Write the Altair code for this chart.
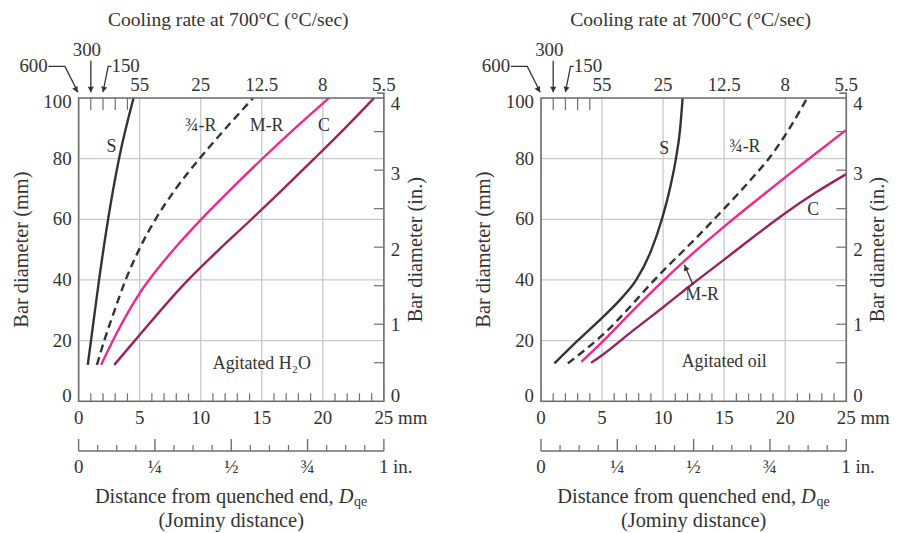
import altair as alt
import pandas as pd

FONT = "Liberation Serif"
INK = "#333333"
FRAME = "#6e6e6e"
GRID = "#c9c9c9"
PINK = "#f0288c"
PLUM = "#9c2060"
W, H = 307, 305
TITLE = 20.5
TICK = 19

# ---------------- data ----------------
series_names = ["S", "¾-R", "M-R", "C"]
series_colors = [INK, INK, PINK, PLUM]

# Agitated water: Jominy distance (mm) vs bar diameter (mm)
h2o_S_x = [0.75, 1.0, 1.65, 2.4, 3.3, 4.5]
h2o_S_y = [12, 19.5, 39.3, 59.6, 79.8, 100]
h2o_34R_x = [1.5, 2.1, 2.95, 3.85, 4.95, 6.3, 7.95, 9.9, 12.05, 14.3]
h2o_34R_y = [12, 20, 30, 40, 50, 60, 70, 80, 90, 100]
h2o_MR_x = [1.84, 3.0, 4.0, 5.1, 6.5, 8.0, 10.0, 12.5, 15.0, 17.8, 20.5]
h2o_MR_y = [12, 21.5, 29.0, 36.2, 43.8, 51.0, 59.8, 70.0, 79.8, 90.3, 100]
h2o_C_x = [2.92, 4.5, 8.8, 11.4, 14.05, 16.7, 19.3, 21.8, 24.2]
h2o_C_y = [12, 19.5, 39.3, 49.6, 59.6, 69.8, 80, 90, 100]

# Agitated oil
oil_S_x = [1.1, 3.0, 5.0, 6.6, 7.8, 9.05, 9.9, 10.55, 11.05, 11.4, 11.6]
oil_S_y = [12.5, 20, 27.5, 34, 40, 50, 60, 70, 80, 90, 100]
oil_34R_x = [2.2, 5.0, 10.0, 12.5, 15.0, 17.5, 18.5, 20.2, 21.8]
oil_34R_y = [12.5, 21.7, 43, 53, 63.5, 74.5, 79.2, 89, 100]
oil_MR_x = [3.3, 5.0, 7.5, 10.0, 12.5, 15.0, 17.5, 20.0, 22.5, 25.0]
oil_MR_y = [13, 19.5, 29.8, 39.7, 49.0, 57.6, 65.8, 73.8, 81.7, 89.5]
oil_C_x = [4.1, 5.0, 7.5, 10.0, 12.5, 15.0, 17.5, 20.0, 22.5, 25.0]
oil_C_y = [12.7, 15.2, 23.2, 31, 39, 46.7, 54.5, 62, 68.8, 74.9]

# axes / scales
mm_grid = [5, 10, 15, 20]
mm_labels = [0, 5, 10, 15, 20]
mm_minor = [1, 2, 3, 4, 6, 7, 8, 9, 11, 12, 13, 14, 16, 17, 18, 19, 21, 22, 23, 24]
diam_grid = [20, 40, 60, 80]
diam_labels = [0, 20, 40, 60, 80, 100]
diam_label_at = [1.6, 20, 40, 60, 80, 98.7]      # end labels nudged inward as printed
diam_in_ticks = [0.5, 1, 1.5, 2, 2.5, 3, 3.5]
diam_in_labels = [0, 1, 2, 3, 4]
diam_in_label_at = [1.6, 25, 50, 75, 98.1]        # where the inch labels are printed (mm)
cool_pos = [5, 10, 15, 20, 25]
cool_text = ["55", "25", "12.5", "8", "5.5"]
cool_ticks = [1, 2, 3, 4]
jom_in_16ths = list(range(17))
jom_in_lab_pos = [0, 0.25, 0.5, 0.75]
jom_in_lab_text = ["0", "¼", "½", "¾"]

# annotation positions (mm, mm)
h2o_notes = {"t": ["S", "¾-R", "M-R", "C", "Agitated H₂O"],
             "x": [2.7, 10.0, 15.4, 20.1, 15.0],
             "y": [83.8, 90.9, 90.9, 90.9, 12.2]}
oil_notes = {"t": ["S", "¾-R", "C", "M-R", "Agitated oil"],
             "x": [10.1, 16.7, 22.3, 13.2, 15.0],
             "y": [83.2, 83.7, 63.0, 35.0, 13.0]}

XS = alt.Scale(domain=[0, 25], nice=False, zero=False)
YS = alt.Scale(domain=[0, 100], nice=False, zero=False)
one = pd.DataFrame({"k": [0]})


def curves_df(sx, sy, rx, ry, mx, my, cx, cy):
    rows = []
    for name, xs, ys in zip(series_names, [sx, rx, mx, cx], [sy, ry, my, cy]):
        for a, b in zip(xs, ys):
            rows.append({"series": name, "x": a, "y": b})
    return pd.DataFrame(rows)


def T(text, x, y, size=TITLE, align="center", angle=0, style="normal"):
    kw = dict(text=text, font=FONT, fontSize=size, color=INK, align=align,
              baseline="middle", fontStyle=style)
    if angle:
        kw["angle"] = angle
    return alt.Chart(one).mark_text(**kw).encode(x=alt.value(x), y=alt.value(y))


def X(f="x"):
    return alt.X(f"{f}:Q", scale=XS, axis=None)


def Y(f="y"):
    return alt.Y(f"{f}:Q", scale=YS, axis=None)


def arrow(pts, tip, angle):
    df = pd.DataFrame({"x": [p[0] for p in pts], "y": [p[1] for p in pts], "o": list(range(len(pts)))})
    line = alt.Chart(df).mark_line(color=INK, strokeWidth=1.3).encode(x=X(), y=Y(), order="o:Q")
    head = alt.Chart(pd.DataFrame({"x": [tip[0]], "y": [tip[1]]})).mark_point(
        shape="triangle-up", filled=True, size=38, color=INK, opacity=1, angle=angle
    ).encode(x=X(), y=Y())
    return [line, head]


def panel(cdf, notes, extra_layers):
    L = []
    L.append(alt.Chart(pd.DataFrame({"x": mm_grid})).mark_rule(color=GRID, strokeWidth=1.3)
             .encode(x=X(), y=alt.value(0), y2=alt.value(H)))
    L.append(alt.Chart(pd.DataFrame({"y": diam_grid})).mark_rule(color=GRID, strokeWidth=1.3)
             .encode(y=Y(), x=alt.value(0), x2=alt.value(W)))
    # inward ticks
    L.append(alt.Chart(pd.DataFrame({"x": mm_minor})).mark_rule(color=FRAME, strokeWidth=1.2)
             .encode(x=X(), y=alt.value(H - 8), y2=alt.value(H)))
    L.append(alt.Chart(pd.DataFrame({"x": cool_ticks})).mark_rule(color=FRAME, strokeWidth=1.2)
             .encode(x=X(), y=alt.value(0), y2=alt.value(12)))
    L.append(alt.Chart(pd.DataFrame({"inch": diam_in_ticks})).transform_calculate(y="datum.inch * 25.4")
             .mark_rule(color=FRAME, strokeWidth=1.2)
             .encode(y=Y(), x=alt.value(W - 10), x2=alt.value(W)))
    # curves: solid ones, then dashed
    solid = cdf[cdf.series != "¾-R"]
    dashed = cdf[cdf.series == "¾-R"]
    L.append(alt.Chart(solid).mark_line(strokeWidth=2.4, interpolate="monotone").encode(
        x=X(), y=Y(),
        color=alt.Color("series:N", scale=alt.Scale(domain=series_names, range=series_colors), legend=None),
    ))
    L.append(alt.Chart(dashed).mark_line(strokeWidth=2.4, interpolate="monotone", strokeDash=[8, 5],
                                         color=INK).encode(x=X(), y=Y()))
    # frame
    L.append(alt.Chart(one).mark_rect(filled=False, stroke=FRAME, strokeWidth=1.6)
             .encode(x=alt.value(0), x2=alt.value(W), y=alt.value(0), y2=alt.value(H)))
    # 4-in. tick bracket at top right
    L.append(alt.Chart(pd.DataFrame({"y": [100], "y2": [101.6]})).mark_rule(color=FRAME, strokeWidth=1.6)
             .encode(x=alt.value(W), y=Y(), y2="y2:Q"))
    L.append(alt.Chart(pd.DataFrame({"y": [101.6]})).mark_rule(color=FRAME, strokeWidth=1.6)
             .encode(x=alt.value(W - 7), x2=alt.value(W + 0.8), y=Y()))
    # left labels (mm)
    L.append(alt.Chart(pd.DataFrame({"v": diam_labels, "y": diam_label_at})).mark_text(
        font=FONT, fontSize=TICK, color=INK, align="right", baseline="middle")
        .encode(y=Y(), x=alt.value(-7), text="v:Q"))
    # right labels (in.)
    L.append(alt.Chart(pd.DataFrame({"inch": diam_in_labels, "y": diam_in_label_at}))
             .mark_text(font=FONT, fontSize=TICK, color=INK, align="left", baseline="middle")
             .encode(y=Y(), x=alt.value(W + 7), text="inch:Q"))
    # bottom labels (mm)
    L.append(alt.Chart(pd.DataFrame({"x": mm_labels})).mark_text(
        font=FONT, fontSize=TICK, color=INK, align="center", baseline="middle")
        .encode(x=X(), y=alt.value(H + 17), text="x:Q"))
    L.append(alt.Chart(pd.DataFrame({"x": [25], "t": ["25 mm"]})).mark_text(
        font=FONT, fontSize=TICK, color=INK, align="left", baseline="middle", dx=-9.5)
        .encode(x=X(), y=alt.value(H + 17), text="t:N"))
    # top cooling-rate labels
    L.append(alt.Chart(pd.DataFrame({"x": cool_pos, "t": cool_text})).mark_text(
        font=FONT, fontSize=TICK, color=INK, align="center", baseline="middle")
        .encode(x=X(), y=alt.value(-13.5), text="t:N"))
    L.append(alt.Chart(pd.DataFrame({"x": [-3.69, 3.85], "t": ["600", "150"]})).mark_text(
        font=FONT, fontSize=TICK, color=INK, align="center", baseline="middle")
        .encode(x=X(), y=alt.value(-32), text="t:N"))
    L.append(alt.Chart(pd.DataFrame({"x": [0.68], "t": ["300"]})).mark_text(
        font=FONT, fontSize=TICK, color=INK, align="center", baseline="middle")
        .encode(x=X(), y=alt.value(-48.5), text="t:N"))
    L += arrow([(-2.47, 110.4), (-1.12, 110.4), (-0.05, 101.9)], (-0.2, 102.7), 153)
    L += arrow([(1.0, 112.3), (1.0, 101.9)], (1.0, 102.8), 180)
    L += arrow([(2.69, 110.4), (2.42, 110.4), (2.0, 101.9)], (2.05, 102.8), 191)
    # inch Jominy scale
    base_y = H + 50
    L.append(alt.Chart(one).mark_rule(color=FRAME, strokeWidth=1.5)
             .encode(x=alt.value(0), x2=alt.value(W), y=alt.value(base_y)))
    jdf = pd.DataFrame({"k": jom_in_16ths})
    L.append(alt.Chart(jdf).transform_filter("datum.k % 4 == 0").transform_calculate(x="datum.k / 16 * 25")
             .mark_rule(color=FRAME, strokeWidth=1.4).encode(x=X(), y=alt.value(base_y - 12), y2=alt.value(base_y)))
    L.append(alt.Chart(jdf).transform_filter("datum.k % 4 != 0").transform_calculate(x="datum.k / 16 * 25")
             .mark_rule(color=FRAME, strokeWidth=1.2).encode(x=X(), y=alt.value(base_y - 6), y2=alt.value(base_y)))
    L.append(alt.Chart(pd.DataFrame({"inch": jom_in_lab_pos, "t": jom_in_lab_text}))
             .transform_calculate(x="datum.inch * 25")
             .mark_text(font=FONT, fontSize=TICK, color=INK, align="center", baseline="middle")
             .encode(x=X(), y=alt.value(base_y + 16), text="t:N"))
    L.append(alt.Chart(pd.DataFrame({"inch": [1], "t": ["1 in."]})).transform_calculate(x="datum.inch * 25")
             .mark_text(font=FONT, fontSize=TICK, color=INK, align="left", baseline="middle", dx=-5)
             .encode(x=X(), y=alt.value(base_y + 16), text="t:N"))
    # titles
    L.append(T("Cooling rate at 700°C (°C/sec)", W / 2 - 3, -78, size=19.7))
    L.append(T("Bar diameter (mm)", -57, H / 2, angle=270))
    L.append(T("Bar diameter (in.)", W + 32, H / 2, angle=270))
    L.append(T("Distance from quenched end,", 256.5, H + 96, align="right"))
    L.append(T("D", 261.5, H + 96, align="left", style="italic"))
    L.append(T("qe", 277, H + 101, size=14, align="left"))
    L.append(T("(Jominy distance)", W / 2, H + 120))
    # curve annotations
    L.append(alt.Chart(pd.DataFrame(notes)).mark_text(
        font=FONT, fontSize=18, color=INK, align="center", baseline="middle")
        .encode(x=X(), y=Y(), text="t:N"))
    L += extra_layers
    return alt.layer(*L).properties(width=W, height=H)


left = panel(curves_df(h2o_S_x, h2o_S_y, h2o_34R_x, h2o_34R_y, h2o_MR_x, h2o_MR_y, h2o_C_x, h2o_C_y),
             h2o_notes, [])
right = panel(curves_df(oil_S_x, oil_S_y, oil_34R_x, oil_34R_y, oil_MR_x, oil_MR_y, oil_C_x, oil_C_y),
              oil_notes, arrow([(12.45, 38.3), (11.75, 45.0)], (11.85, 44.0), 337))

chart = alt.hconcat(left, right, spacing=158, bounds="flush").properties(
    padding={"left": 3, "top": 0, "right": 0, "bottom": 0}
).configure_view(stroke=None).configure(background="white")

chart.save("out.html", embed_options={"renderer": "svg", "actions": False})
